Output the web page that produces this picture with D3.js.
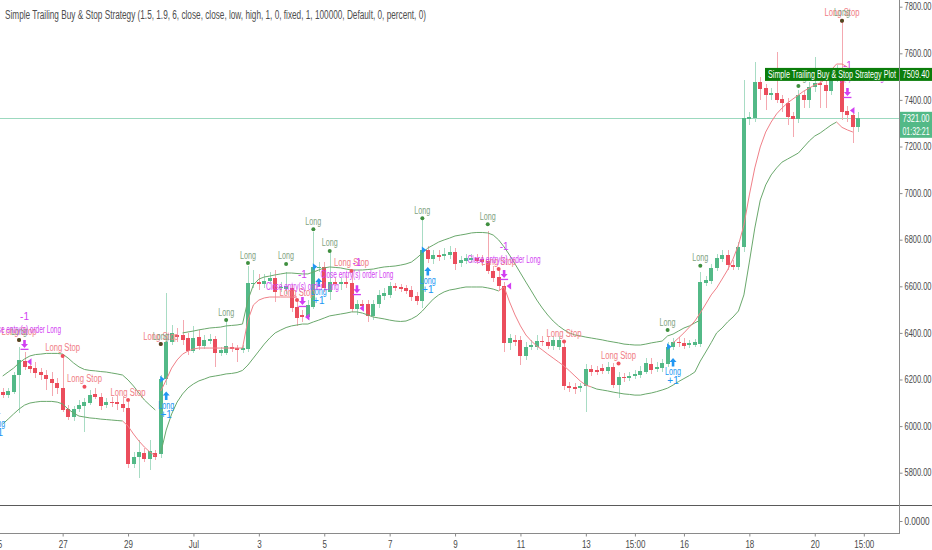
<!DOCTYPE html>
<html>
<head>
<meta charset="utf-8">
<script src="https://cdn.jsdelivr.net/npm/d3@7"></script>
<style>
  body { margin: 0; background: #ffffff; }
  svg { display: block; }
  text { font-family: "Liberation Sans", Arial, sans-serif; }
</style>
</head>
<body>
<svg id="chart" width="932" height="550"></svg>
<script>

//-----------------------------------------------------------------------
// 4h candles

var opens = [
  6148,6134,6148,6219,6281,6258,6249,6232,6219,6201,
  6184,6162,6073,6039,6073,6086,6100,6138,6126,6090,
  6105,6105,6093,6076,5837,5866,5886,5860,5884,5880,
  6201,6362,6391,6391,6377,6324,6381,6344,6366,6375,
  6315,6315,6341,6334,6327,6330,6610,6618,6610,6624,
  6634,6591,6588,6591,6511,6477,6468,6512,6679,6684,
  6577,6618,6610,6618,6613,6501,6524,6524,6473,6524,
  6558,6563,6601,6596,6591,6584,6558,6538,6756,6716,
  6735,6730,6734,6749,6701,6710,6713,6720,6717,6710,
  6667,6639,6601,6358,6370,6370,6301,6341,6341,6366,
  6362,6344,6341,6341,6172,6169,6162,6172,6244,6241,
  6248,6238,6255,6176,6212,6208,6215,6219,6233,6266,
  6244,6248,6266,6341,6362,6358,6348,6350,6352,6615,
  6624,6677,6716,6734,6691,6684,6767,7317,7321,7478,
  7450,7422,7431,7403,7388,7331,7318,7421,7400,7457,
  7474,7464,7440,7493,7500,7354,7335,7282
];
var highs = [
  6164,6164,6232,6340,6318,6284,6275,6249,6241,6232,
  6206,6301,6090,6086,6112,6121,6155,6164,6142,6121,
  6125,6129,6129,6105,5889,5940,5906,5940,5897,6219,
  6571,6434,6421,6455,6400,6430,6412,6391,6395,6387,
  6339,6455,6357,6348,6348,6687,6670,6653,6653,6661,
  6670,6618,6661,6606,6541,6498,6541,6833,6704,6704,
  6752,6636,6636,6644,6666,6541,6541,6541,6541,6584,
  6593,6618,6614,6610,6606,6601,6575,6893,6773,6756,
  6756,6764,6773,6764,6730,6739,6739,6739,6734,6837,
  6687,6670,6618,6395,6391,6387,6361,6370,6391,6387,
  6382,6387,6387,6365,6189,6185,6185,6266,6262,6258,
  6266,6275,6271,6232,6228,6232,6241,6258,6292,6292,
  6275,6288,6361,6378,6382,6378,6370,6374,6663,6644,
  6696,6739,6756,6756,6713,6790,7485,7348,7564,7498,
  7468,7451,7607,7421,7408,7348,7443,7438,7477,7585,
  7494,7485,7528,7550,7743,7374,7357,7348
];
var lows = [
  6121,6121,6138,6056,6241,6228,6206,6198,6155,6129,
  6138,6060,6026,6022,6060,5975,6090,6116,6069,6078,
  6082,6069,6060,5820,5820,5777,5846,5812,5855,5863,
  6176,6348,6361,6348,6305,6314,6327,6331,6352,6255,
  6301,6305,6318,6276,6314,6318,6593,6584,6593,6610,
  6534,6576,6567,6490,6430,6447,6455,6502,6661,6576,
  6541,6601,6584,6593,6490,6477,6498,6447,6455,6507,
  6541,6550,6580,6576,6567,6537,6520,6507,6700,6696,
  6709,6713,6717,6670,6683,6696,6700,6696,6687,6653,
  6618,6584,6318,6327,6344,6262,6284,6327,6327,6344,
  6331,6327,6327,6155,6146,6138,6146,6062,6215,6219,
  6224,6224,6164,6121,6189,6194,6202,6206,6224,6224,
  6232,6232,6254,6327,6339,6331,6335,6339,6339,6601,
  6610,6666,6704,6670,6670,6670,6747,7292,7305,7400,
  7357,7400,7387,7348,7292,7241,7301,7365,7365,7434,
  7365,7365,7421,7477,7314,7305,7215,7262
];
var closes = [
  6133,6152,6219,6284,6255,6245,6229,6218,6201,6184,
  6162,6069,6039,6073,6090,6105,6134,6126,6086,6105,
  6098,6093,6076,5837,5869,5890,5860,5894,5867,6201,
  6362,6398,6381,6370,6324,6377,6344,6370,6375,6315,
  6327,6344,6330,6327,6335,6613,6615,6610,6624,6634,
  6576,6598,6601,6506,6464,6468,6520,6684,6684,6593,
  6620,6610,6618,6610,6501,6524,6517,6473,6524,6563,
  6570,6601,6596,6588,6581,6555,6538,6756,6716,6733,
  6727,6739,6749,6696,6713,6720,6720,6710,6706,6667,
  6634,6601,6358,6377,6362,6301,6341,6348,6366,6359,
  6345,6370,6370,6172,6162,6159,6172,6244,6234,6234,
  6238,6255,6176,6212,6205,6216,6223,6238,6269,6241,
  6255,6269,6341,6362,6355,6344,6357,6359,6620,6627,
  6677,6720,6734,6691,6682,6770,7321,7325,7478,7446,
  7421,7431,7400,7388,7328,7319,7421,7400,7457,7471,
  7463,7440,7500,7507,7349,7335,7282,7321
];

// strategy plots (null = not drawn on that bar)
var upperBand = [
  6215,6232,6249,6271,6288,6301,6307,6309,6312,6312,
  6312,6309,6292,6271,6254,6243,6239,6237,6234,6232,
  6228,6224,6219,6198,6172,6142,6112,6090,6069,null,
  null,null,null,6400,6404,6408,6413,6417,6421,6423,
  6425,6430,6432,6434,6438,6541,6606,6631,6640,6644,
  6649,6653,6657,6657,6655,6653,6653,6661,6670,6679,
  6683,6681,6679,6674,6670,6670,6670,6672,6674,6679,
  6683,6685,6687,6691,6696,6704,6722,6743,6764,6777,
  6790,6799,6807,6816,6820,6824,6829,6831,6831,6829,
  6820,6799,6769,6734,6696,6657,6618,6580,6541,6507,
  6477,6451,6430,6413,6400,6391,6387,6382,6378,6374,
  6370,6365,6361,6357,6352,6350,6348,6348,6352,6357,
  6361,6365,6387,6395,6408,6421,6430,6443,6455,null,
  null,null,null,null,null,null,null,null,null,null,
  null,null,null,null,null,null,null,null,null,null,
  null,null,null,null,null,null,null,null
];
var lowerBand = [
  6009,6030,6052,6073,6090,6099,6103,6106,6106,6106,
  6103,6095,6073,6056,6043,6039,6035,6033,6030,6028,
  6026,6024,6022,null,null,null,null,null,null,5885,
  5983,6052,6103,6138,6164,6181,6194,6202,6211,6215,
  6219,6224,6226,6230,6239,6262,6292,6322,6352,6378,
  6400,6412,6423,6430,6434,6438,6438,6447,6455,6464,
  6473,6477,6481,6485,6490,6490,6485,6477,6468,6464,
  6460,6455,6451,6449,6451,6460,6473,6494,6520,6545,
  6563,6576,6584,6588,6593,6597,6597,6597,6597,6593,
  6588,6580,null,null,null,null,null,null,null,null,
  null,null,null,null,null,null,null,null,6168,6159,
  6155,6151,6146,6142,6138,6136,6133,6133,6138,6142,
  6148,6155,6163,6176,6191,6204,6217,6232,6279,6318,
  6358,6400,6421,6447,6468,6494,6563,6704,6850,6970,
  7035,7078,7108,7133,7146,7159,7172,7198,7224,7245,
  7258,7275,7292,7305,null,null,null,null
];
var trailStop = [
  null,null,null,null,null,null,null,null,null,null,
  null,null,null,null,null,null,null,null,null,null,
  null,null,null,null,null,null,null,null,null,6150,
  6198,6249,6284,6309,6322,6331,6335,6335,6335,6335,
  6335,6335,6335,6335,6335,6455,6520,6541,6550,6554,
  6554,6554,6554,6554,6554,null,null,null,null,null,
  null,null,null,null,null,null,null,null,null,null,
  null,null,null,null,null,null,null,null,null,null,
  null,null,null,null,null,null,null,null,null,null,
  null,null,null,null,null,null,null,null,null,null,
  null,null,null,null,null,null,null,null,null,null,
  null,null,null,null,null,null,null,null,null,null,
  null,null,null,6357,6378,6400,6425,6451,6486,6524,
  6563,6593,6631,6670,6717,6777,6863,6992,7108,7198,
  7262,7305,7340,7365,7387,7404,7421,7438,7451,7464,
  7473,7490,7528,7554,7554,7541,null,null
];
var exitTrail = [
  null,null,null,null,null,null,null,null,null,null,
  null,null,null,null,null,null,null,null,null,null,
  null,null,6022,6000,5966,5936,5910,5889,5872,null,
  null,null,null,null,null,null,null,null,null,null,
  null,null,null,null,null,null,null,null,null,null,
  null,null,null,null,null,null,null,null,null,null,
  null,null,null,null,null,null,null,null,null,null,
  null,null,null,null,null,null,null,null,null,null,
  null,null,null,null,null,null,null,null,null,null,
  null,6580,6597,6533,6477,6430,6391,6365,6344,6327,
  6309,6292,6275,6258,6237,6215,6193,6176,6168,null,
  null,null,null,null,null,null,null,null,null,null,
  null,null,null,null,null,null,null,null,null,null,
  null,null,null,null,null,null,null,null,null,null,
  null,null,null,null,null,null,null,null,null,null,
  null,null,null,7305,7282,7271,7262,null
];

// signal shapes and orders
var longBars   = [3, 29, 41, 45, 52, 57, 60, 77, 89, 122, 128, 146, 154];
var longLevels = [6370, 6352, 6455, 6700, 6696, 6845, 6752, 6892, 6866, 6412, 6688, 7460, 7740];
var stopBars   = [3, 11, 15, 23, 29, 54, 64, 91, 103, 113, 154];
var stopLevels = [6370, 6301, 6169, 6112, 6352, 6541, 6666, 6674, 6363, 6269, 7740];
var entryBars   = [-1, 30, 58, 78, 123];
var entryLevels = [6069, 6148, 6636, 6683, 6292];
var entryFills  = [null, 6201, 6684, 6756, 6341];
var exitBars   = [4, 55, 65, 92, 155];
var exitLevels = [6370, 6554, 6605, 6670, 7451];
var exitFills  = [6276, 6468, 6506, 6601, 7354];

// axes
var priceTicks = [7800, 7600, 7400, 7200, 7000, 6800, 6600, 6400, 6200, 6000, 5800];
var timeTicks  = [-1, 11, 23, 35, 47, 59, 71, 83, 95, 107, 116, 125, 137, 149, 158];
var timeLabels = ["25", "27", "29", "Jul", "3", "5", "7", "9", "11", "13", "15:00", "16", "18", "20", "15:00"];
var lastPrice = 7321;
var plotPrice = 7509.4;
var titleText = "Simple Trailing Buy & Stop Strategy (1.5, 1.9, 6, close, close, low, high, 1, 0, fixed, 1, 100000, Default, 0, percent, 0)";

//-----------------------------------------------------------------------

var plotRight = 899;
var paneBottom = 503;
var upColor = "#53b987", downColor = "#eb4d5c";
var upWick = "#a8dcc4", downWick = "#f4a8b0";
var bandColor = "#6aa86c", stopColor = "#f08088";
var longColor = "#3f8f3f", longText = "#7fa27f";
var stopText = "#f07c84", stopDot = "#ef4f5c";
var blue = "#2196f3", purple = "#d23ff2";

var svg = d3.select("#chart");
svg.append("rect").attr("width", 932).attr("height", 550).attr("fill", "#ffffff");

svg.append("defs").append("clipPath").attr("id", "clip")
  .append("rect").attr("x", 0).attr("y", 0).attr("width", plotRight).attr("height", paneBottom);

var x = d3.scaleLinear().domain([0, 157]).range([2.7, 858.35]);
var y = d3.scaleLinear().domain([5800, 7800]).range([472.7, 6.7]);
var yPane = d3.scaleLinear().domain([-1, 1]).range([537, 505]);

function narrow(sel, f) {
  sel.each(function () {
    var w = this.getComputedTextLength();
    d3.select(this).attr("textLength", w * f).attr("lengthAdjust", "spacingAndGlyphs");
  });
}

var plot = svg.append("g").attr("clip-path", "url(#clip)");

// last price line
plot.append("line")
  .attr("x1", 0).attr("x2", plotRight)
  .attr("y1", Math.round(y(lastPrice)) + 0.5).attr("y2", Math.round(y(lastPrice)) + 0.5)
  .attr("stroke", "#9cd9bf").attr("stroke-width", 1);

//-----------------------------------------------------------------------
// candles

var bars = d3.range(opens.length);
var candles = plot.append("g").attr("shape-rendering", "crispEdges");

candles.selectAll(".wick").data(bars).enter().append("line")
  .attr("x1", function (i) { return Math.round(x(i)); })
  .attr("x2", function (i) { return Math.round(x(i)); })
  .attr("y1", function (i) { return y(highs[i]); })
  .attr("y2", function (i) { return y(lows[i]); })
  .attr("stroke", function (i) { return closes[i] >= opens[i] ? upWick : downWick; })
  .attr("stroke-width", 1);

candles.selectAll(".body").data(bars).enter().append("rect")
  .attr("x", function (i) { return Math.round(x(i)) - 2; })
  .attr("width", 4)
  .attr("y", function (i) { return y(Math.max(opens[i], closes[i])); })
  .attr("height", function (i) { return Math.max(1.5, Math.abs(y(opens[i]) - y(closes[i]))); })
  .attr("fill", function (i) { return closes[i] >= opens[i] ? upColor : downColor; });

//-----------------------------------------------------------------------
// plot lines

function drawLine(values, color) {
  var line = d3.line()
    .defined(function (d) { return d != null; })
    .x(function (d, i) { return x(i); })
    .y(function (d) { return y(d); });
  plot.append("path").datum(values)
    .attr("d", line)
    .attr("fill", "none")
    .attr("stroke", color)
    .attr("stroke-width", 1);
}

drawLine(upperBand, bandColor);
drawLine(lowerBand, bandColor);
drawLine(exitTrail, stopColor);
drawLine(trailStop, stopColor);

//-----------------------------------------------------------------------
// signal labels

var marks = plot.append("g");

marks.selectAll(".stop-label").data(stopBars).enter().append("text")
  .attr("x", function (b) { return x(b); })
  .attr("y", function (b, k) { return y(stopLevels[k]) - 8; })
  .attr("dy", "0.35em")
  .attr("text-anchor", "middle")
  .attr("font-size", 10)
  .attr("fill", stopText)
  .attr("textLength", 35).attr("lengthAdjust", "spacingAndGlyphs")
  .text("Long Stop");

marks.selectAll(".long-label").data(longBars).enter().append("text")
  .attr("x", function (b) { return x(b); })
  .attr("y", function (b, k) { return y(longLevels[k]) - 8; })
  .attr("dy", "0.35em")
  .attr("text-anchor", "middle")
  .attr("font-size", 10)
  .attr("fill", longText)
  .attr("textLength", 16).attr("lengthAdjust", "spacingAndGlyphs")
  .text("Long");

marks.selectAll(".stop-dot").data(stopBars).enter().append("circle")
  .attr("cx", function (b) { return x(b); })
  .attr("cy", function (b, k) { return y(stopLevels[k]); })
  .attr("r", 2)
  .attr("fill", stopDot);

marks.selectAll(".long-dot").data(longBars).enter().append("circle")
  .attr("cx", function (b) { return x(b); })
  .attr("cy", function (b, k) { return y(longLevels[k]); })
  .attr("r", 2)
  .attr("fill", function (b) { return stopBars.indexOf(b) >= 0 ? "#4b4b22" : longColor; });

// entry orders: arrow up, "Long", "+1"
entryBars.forEach(function (b, k) {
  var cx = x(b), tip = y(entryLevels[k]);
  marks.append("path")
    .attr("d", "M" + cx + "," + tip + " L" + (cx + 3.5) + "," + (tip + 4) + " L" + (cx + 1.3) + "," + (tip + 4) +
      " L" + (cx + 1.3) + "," + (tip + 8.5) + " L" + (cx - 1.3) + "," + (tip + 8.5) + " L" + (cx - 1.3) + "," + (tip + 4) +
      " L" + (cx - 3.5) + "," + (tip + 4) + " Z")
    .attr("fill", blue);
  marks.append("text").attr("x", cx).attr("y", tip + 13.5).attr("dy", "0.35em")
    .attr("text-anchor", "middle").attr("font-size", 10).attr("fill", blue)
    .attr("textLength", 16).attr("lengthAdjust", "spacingAndGlyphs").text("Long");
  marks.append("text").attr("x", cx).attr("y", tip + 22.5).attr("dy", "0.35em")
    .attr("text-anchor", "middle").attr("font-size", 10).attr("fill", blue).text("+1");
  if (entryFills[k] != null) {
    var fy = y(entryFills[k]);
    marks.append("path")
      .attr("d", "M" + (cx - 6) + "," + (fy - 3.5) + " L" + (cx - 1.5) + "," + fy + " L" + (cx - 6) + "," + (fy + 3.5) + " Z")
      .attr("fill", blue);
  }
});

// exit orders: "-1", text, arrow down with bar, fill marker
exitBars.forEach(function (b, k) {
  var cx = x(b), top = y(exitLevels[k]), fy = y(exitFills[k]);
  marks.append("text").attr("x", cx).attr("y", top - 23).attr("dy", "0.35em")
    .attr("text-anchor", "middle").attr("font-size", 10).attr("fill", purple).text("-1");
  marks.append("text").attr("x", cx).attr("y", top - 10.5).attr("dy", "0.35em")
    .attr("text-anchor", "middle").attr("font-size", 10).attr("fill", purple)
    .attr("textLength", 73).attr("lengthAdjust", "spacingAndGlyphs").text("Close entry(s) order Long");
  marks.append("path")
    .attr("d", "M" + (cx - 1.3) + "," + top + " L" + (cx + 1.3) + "," + top + " L" + (cx + 1.3) + "," + (top + 4) +
      " L" + (cx + 3.5) + "," + (top + 4) + " L" + cx + "," + (top + 8) + " L" + (cx - 3.5) + "," + (top + 4) +
      " L" + (cx - 1.3) + "," + (top + 4) + " Z")
    .attr("fill", purple);
  marks.append("rect").attr("x", cx - 4).attr("y", top + 8.8).attr("width", 8).attr("height", 1.3).attr("fill", purple);
  marks.append("path")
    .attr("d", "M" + (cx + 7) + "," + (fy - 3.5) + " L" + (cx + 2.5) + "," + fy + " L" + (cx + 7) + "," + (fy + 3.5) + " Z")
    .attr("fill", purple);
});

//-----------------------------------------------------------------------
// title

svg.append("text")
  .attr("x", 5).attr("y", 19)
  .attr("font-size", 12)
  .attr("fill", "#4e4e4e")
  .attr("textLength", 421).attr("lengthAdjust", "spacingAndGlyphs")
  .text(titleText);

//-----------------------------------------------------------------------
// frame and axes

svg.append("line").attr("x1", 0).attr("x2", 932).attr("y1", 505.5).attr("y2", 505.5)
  .attr("stroke", "#5a5a5a").attr("stroke-width", 1);
svg.append("line").attr("x1", plotRight + 0.5).attr("x2", plotRight + 0.5).attr("y1", 0).attr("y2", 533)
  .attr("stroke", "#8a8a8a").attr("stroke-width", 1);
svg.append("line").attr("x1", 0).attr("x2", plotRight + 1).attr("y1", 533.5).attr("y2", 533.5)
  .attr("stroke", "#8a8a8a").attr("stroke-width", 1);

var yAxis = d3.axisRight(y).tickValues(priceTicks).tickFormat(d3.format(".2f")).tickSize(3).tickPadding(2);
var ya = svg.append("g").attr("transform", "translate(" + (plotRight + 0.5) + ",0)").call(yAxis);
ya.select(".domain").remove();
ya.attr("font-family", "Liberation Sans, Arial, sans-serif").attr("font-size", 10);
ya.selectAll("line").attr("stroke", "#8a8a8a");
ya.selectAll("text").attr("fill", "#4a4a4a")
  .attr("textLength", 27).attr("lengthAdjust", "spacingAndGlyphs");

var paneAxis = d3.axisRight(yPane).tickValues([0]).tickFormat(d3.format(".4f")).tickSize(3).tickPadding(2);
var pa = svg.append("g").attr("transform", "translate(" + (plotRight + 0.5) + ",0)").call(paneAxis);
pa.select(".domain").remove();
pa.attr("font-family", "Liberation Sans, Arial, sans-serif").attr("font-size", 10);
pa.selectAll("line").attr("stroke", "#8a8a8a");
pa.selectAll("text").attr("fill", "#4a4a4a")
  .attr("textLength", 25).attr("lengthAdjust", "spacingAndGlyphs");

var xAxis = d3.axisBottom(x).tickValues(timeTicks)
  .tickFormat(function (d, i) { return timeLabels[i]; })
  .tickSize(3).tickPadding(4);
var xa = svg.append("g").attr("transform", "translate(0,533.5)").call(xAxis);
xa.select(".domain").remove();
xa.attr("font-family", "Liberation Sans, Arial, sans-serif").attr("font-size", 10);
xa.selectAll("line").attr("stroke", "#8a8a8a");
xa.selectAll("text").attr("fill", "#4a4a4a");
narrow(xa.selectAll("text"), 0.8);

//-----------------------------------------------------------------------
// price labels

var plotY = y(plotPrice);
svg.append("rect").attr("x", 765).attr("y", plotY - 6.5).attr("width", plotRight - 765).attr("height", 13)
  .attr("fill", "#0b7d0b");
svg.append("text").attr("x", 768).attr("y", plotY).attr("dy", "0.35em")
  .attr("font-size", 10).attr("fill", "#ffffff")
  .attr("textLength", 128).attr("lengthAdjust", "spacingAndGlyphs")
  .text("Simple Trailing Buy & Stop Strategy Plot");

svg.append("rect").attr("x", plotRight + 1).attr("y", plotY - 6.5).attr("width", 32).attr("height", 13)
  .attr("fill", "#0b7d0b");
svg.append("text").attr("x", plotRight + 3.5).attr("y", plotY).attr("dy", "0.35em")
  .attr("font-size", 10).attr("fill", "#ffffff")
  .attr("textLength", 27).attr("lengthAdjust", "spacingAndGlyphs")
  .text(d3.format(".2f")(plotPrice));

var lastY = y(lastPrice);
svg.append("rect").attr("x", plotRight + 1).attr("y", lastY - 6.5).attr("width", 32).attr("height", 26)
  .attr("fill", "#53b987");
svg.append("text").attr("x", plotRight + 3.5).attr("y", lastY).attr("dy", "0.35em")
  .attr("font-size", 10).attr("fill", "#ffffff")
  .attr("textLength", 27).attr("lengthAdjust", "spacingAndGlyphs")
  .text(d3.format(".2f")(lastPrice));
svg.append("text").attr("x", plotRight + 3.5).attr("y", lastY + 13).attr("dy", "0.35em")
  .attr("font-size", 10).attr("fill", "#ffffff")
  .attr("textLength", 27).attr("lengthAdjust", "spacingAndGlyphs")
  .text("01:32:21");

</script>
</body>
</html>
